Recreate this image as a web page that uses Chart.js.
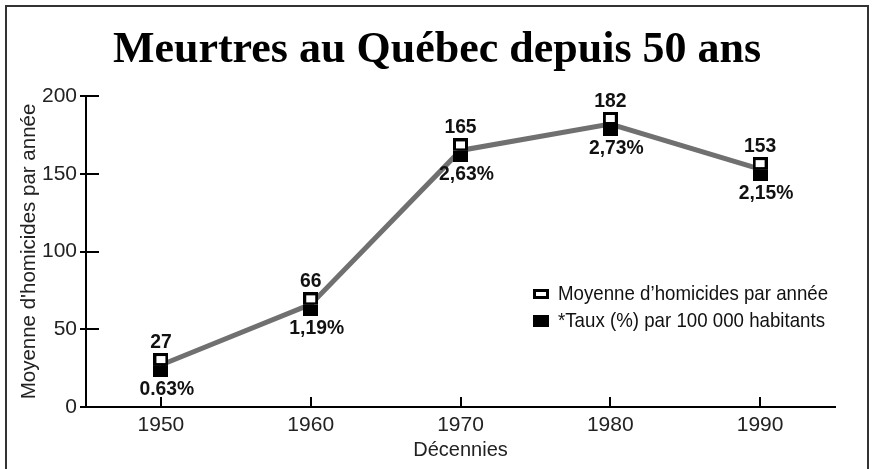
<!DOCTYPE html>
<html><head><meta charset="utf-8">
<script src="https://cdn.jsdelivr.net/npm/chart.js@4/dist/chart.umd.min.js"></script>
<style>html,body{margin:0;padding:0;background:#fff}#wrap{width:874px;height:469px;position:relative}</style>
</head><body><div id="wrap"><canvas id="c" width="874" height="469"></canvas></div>
<script>
// ---- data ----
const decades = ['1950', '1960', '1970', '1980', '1990'];
const homicides = [27, 66, 165, 182, 153];
const rateValues = [0.63, 1.19, 2.63, 2.73, 2.15];
const rateLabels = ['0.63%', '1,19%', '2,63%', '2,73%', '2,15%'];
const yTickValues = [0, 50, 100, 150, 200];
const titleText = 'Meurtres au Québec depuis 50 ans';
const seriesNames = ['Moyenne d\u2019homicides par année', '*Taux (%) par 100 000 habitants'];

const SANS = "'Liberation Sans', Arial, sans-serif";

function makeMarker(filled) {
  const w = 15, h = 12;
  const c = document.createElement('canvas');
  c.width = w; c.height = 2 * h;
  const g = c.getContext('2d');
  g.fillStyle = '#000';
  if (!filled) {
    g.fillRect(0, 0, w, h);
    g.fillStyle = '#fff';
    g.fillRect(3, 3, w - 6, 7);
  } else {
    g.fillRect(0, h, w, h);
  }
  return c;
}
const openMarker = makeMarker(false);
const blackMarker = makeMarker(true);

const framePlugin = {
  id: 'frame',
  beforeDraw(chart) {
    const ctx = chart.ctx;
    ctx.save();
    ctx.fillStyle = '#fff';
    ctx.fillRect(0, 0, chart.width, chart.height);
    ctx.strokeStyle = '#333';
    ctx.lineWidth = 2;
    ctx.strokeRect(6, 6, 862, 480);
    ctx.restore();
  }
};

const tickPlugin = {
  id: 'tickMarks',
  afterDraw(chart) {
    const ctx = chart.ctx, y = chart.scales.y, x = chart.scales.x, a = chart.chartArea;
    ctx.save();
    ctx.strokeStyle = '#000';
    ctx.lineWidth = 2;
    y.ticks.forEach(t => {
      const py = Math.round(y.getPixelForValue(t.value));
      ctx.beginPath(); ctx.moveTo(a.left - 6, py); ctx.lineTo(a.left + 13, py); ctx.stroke();
    });
    x.ticks.forEach((t, i) => {
      const px = Math.round(x.getPixelForTick(i));
      ctx.beginPath(); ctx.moveTo(px, a.bottom - 10); ctx.lineTo(px, a.bottom); ctx.stroke();
    });
    ctx.restore();
  }
};

function condensedText(ctx, text, x, y, sx) {
  ctx.save();
  ctx.translate(x, y);
  ctx.scale(sx, 1);
  ctx.fillText(text, 0, 0);
  ctx.restore();
}

const labelPlugin = {
  id: 'valueLabels',
  afterDatasetsDraw(chart) {
    const ctx = chart.ctx;
    const meta = chart.getDatasetMeta(0);
    ctx.save();
    ctx.fillStyle = '#111';
    ctx.font = 'bold 21px ' + SANS;
    ctx.textAlign = 'center';
    ctx.textBaseline = 'middle';
    meta.data.forEach((pt, i) => {
      condensedText(ctx, String(homicides[i]), pt.x, pt.y - 23, 0.92);
      condensedText(ctx, rateLabels[i], pt.x + 6, pt.y + 24, 0.92);
    });
    ctx.restore();
  }
};

const legendPlugin = {
  id: 'customLegend',
  afterDraw(chart) {
    const ctx = chart.ctx, a = chart.chartArea;
    const mx = a.left + 447, tx = a.left + 472;
    const y1 = 294, y2 = 321;
    ctx.save();
    ctx.fillStyle = '#000';
    ctx.fillRect(mx, y1 - 5, 16, 10);
    ctx.fillStyle = '#fff';
    ctx.fillRect(mx + 3, y1 - 2, 10, 4);
    ctx.fillStyle = '#000';
    ctx.fillRect(mx, y2 - 6, 16, 12);
    ctx.fillStyle = '#111';
    ctx.font = '21px ' + SANS;
    ctx.textAlign = 'left';
    ctx.textBaseline = 'middle';
    condensedText(ctx, seriesNames[0], tx, y1, 0.89);
    condensedText(ctx, seriesNames[1], tx, y2, 0.89);
    ctx.restore();
  }
};

new Chart(document.getElementById('c'), {
  type: 'line',
  data: {
    labels: decades,
    datasets: [
      {
        label: seriesNames[0],
        data: homicides,
        borderColor: '#707070',
        borderWidth: 5,
        tension: 0,
        pointStyle: openMarker,
        pointRadius: 8,
        order: 1
      },
      {
        label: seriesNames[1],
        data: homicides,
        rates: rateValues,
        showLine: false,
        pointStyle: blackMarker,
        pointRadius: 8,
        order: 0
      }
    ]
  },
  options: {
    responsive: false,
    devicePixelRatio: 1,
    animation: false,
    events: [],
    layout: { padding: 0 },
    plugins: {
      legend: { display: false },
      tooltip: { enabled: false },
      title: {
        display: true,
        text: titleText,
        color: '#000',
        font: { family: "'Liberation Serif', 'DejaVu Serif', serif", size: 44, weight: 'bold', lineHeight: 1 },
        padding: { top: 29, bottom: 23 }
      }
    },
    scales: {
      x: {
        type: 'category',
        offset: true,
        grid: { drawOnChartArea: false, drawTicks: false },
        border: { color: '#000', width: 2 },
        ticks: { color: '#222', padding: 6, font: { family: SANS, size: 21 } },
        title: { display: true, text: 'Décennies', color: '#222', font: { family: SANS, size: 20, lineHeight: 1.2 }, padding: { top: 0, bottom: 7 } },
        afterFit(s) { s.height = 62; }
      },
      y: {
        min: 0, max: 200,
        afterBuildTicks(s) { s.ticks = yTickValues.map(v => ({ value: v })); },
        grid: { drawOnChartArea: false, drawTicks: false },
        border: { color: '#000', width: 2 },
        ticks: { color: '#222', padding: 9, font: { family: SANS, size: 21 } },
        title: { display: true, text: "Moyenne d'homicides par année", color: '#222', font: { family: SANS, size: 20.5, lineHeight: 1.2 }, padding: { top: 17, bottom: 0 } },
        afterFit(s) { s.width = 86; }
      },
      spacer: {
        position: 'right',
        display: true,
        grid: { display: false, drawTicks: false },
        border: { display: false },
        ticks: { display: false },
        afterFit(s) { s.width = 39; }
      }
    }
  },
  plugins: [framePlugin, tickPlugin, labelPlugin, legendPlugin]
});
</script>
</body></html>
